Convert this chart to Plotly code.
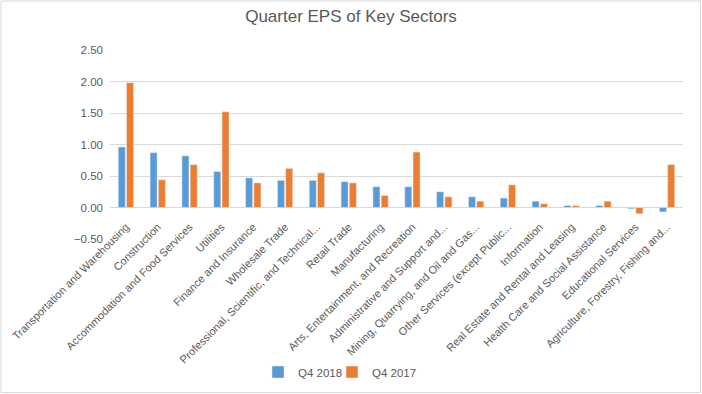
import plotly.graph_objects as go

categories = [
    "Transportation and Warehousing", "Construction", "Accommodation and Food Services",
    "Utilities", "Finance and Insurance", "Wholesale Trade",
    "Professional, Scientific, and Technical...", "Retail Trade", "Manufacturing",
    "Arts, Entertainment, and Recreation", "Administrative and Support and...",
    "Mining, Quarrying, and Oil and Gas...", "Other Services (except Public...",
    "Information", "Real Estate and Rental and Leasing", "Health Care and Social Assistance",
    "Educational Services", "Agriculture, Forestry, Fishing and...",
]
q4_2018 = [0.96, 0.87, 0.82, 0.57, 0.47, 0.43, 0.43, 0.41, 0.33, 0.33, 0.25, 0.17, 0.15,
           0.10, 0.03, 0.03, -0.02, -0.07]
q4_2017 = [1.98, 0.44, 0.68, 1.52, 0.39, 0.62, 0.55, 0.39, 0.19, 0.88, 0.17, 0.10, 0.36,
           0.06, 0.03, 0.10, -0.10, 0.68]
y_ticks = [-0.5, 0.0, 0.5, 1.0, 1.5, 2.0, 2.5]

FONT = "Liberation Sans"
GREY = "#595959"

fig = go.Figure()
fig.add_trace(go.Bar(name="Q4 2018", x=categories, y=q4_2018, marker_color="#5B9BD5",
                     legend="legend"))
fig.add_trace(go.Bar(name="Q4 2017", x=categories, y=q4_2017, marker_color="#ED7D31",
                     legend="legend2"))

L, R, T, B = 110, 19, 50, 155
W, H = 702, 394
pw, ph = W - L - R, H - T - B
ymin, ymax = -0.5, 2.5
LEG_Y = 372

leg_common = dict(orientation="h", xanchor="left", y=(H - B - LEG_Y) / ph, yanchor="middle",
                  font=dict(family=FONT, size=11.5, color=GREY), itemwidth=30,
                  bgcolor="rgba(0,0,0,0)")

fig.update_layout(
    width=W, height=H,
    margin=dict(l=L, r=R, t=T, b=B, autoexpand=False),
    paper_bgcolor="white", plot_bgcolor="white",
    barmode="group", bargap=0.48, bargroupgap=0.15,
    title=dict(text="Quarter EPS of Key Sectors", x=0.5, xref="container", xanchor="center",
               y=1 - 16 / H, yref="container", yanchor="middle",
               font=dict(family=FONT, size=17, color=GREY)),
    font=dict(family=FONT, size=11, color=GREY),
    legend=dict(x=(258 - L) / pw, **leg_common),
    legend2=dict(x=(332 - L) / pw, **leg_common),
    xaxis=dict(tickangle=-45, showgrid=False, showline=False, ticks="", automargin=False,
               anchor="free", position=(0 - ymin) / (ymax - ymin), ticklabelstandoff=10,
               tickfont=dict(family=FONT, size=11, color=GREY)),
    yaxis=dict(range=[ymin, ymax], tickvals=y_ticks, tickformat=".2f", showgrid=True,
               gridcolor="#D9D9D9", gridwidth=1, zeroline=True, zerolinecolor="#D9D9D9",
               zerolinewidth=1, showline=False, ticks="", automargin=False,
               ticklabelstandoff=6,
               tickfont=dict(family=FONT, size=11.5, color=GREY)),
    showlegend=True,
)
fig.add_shape(type="rect", xref="paper", yref="paper",
              x0=(1 - L) / pw, x1=(W - 1.5 - L) / pw,
              y0=(H - B - (H - 1.5)) / ph, y1=(H - B - 1) / ph,
              line=dict(color="#D9D9D9", width=1), layer="below")
fig.write_html("out.html", config={"displayModeBar": False},
               post_script="document.body.style.margin='0';document.body.style.overflow='hidden';")
